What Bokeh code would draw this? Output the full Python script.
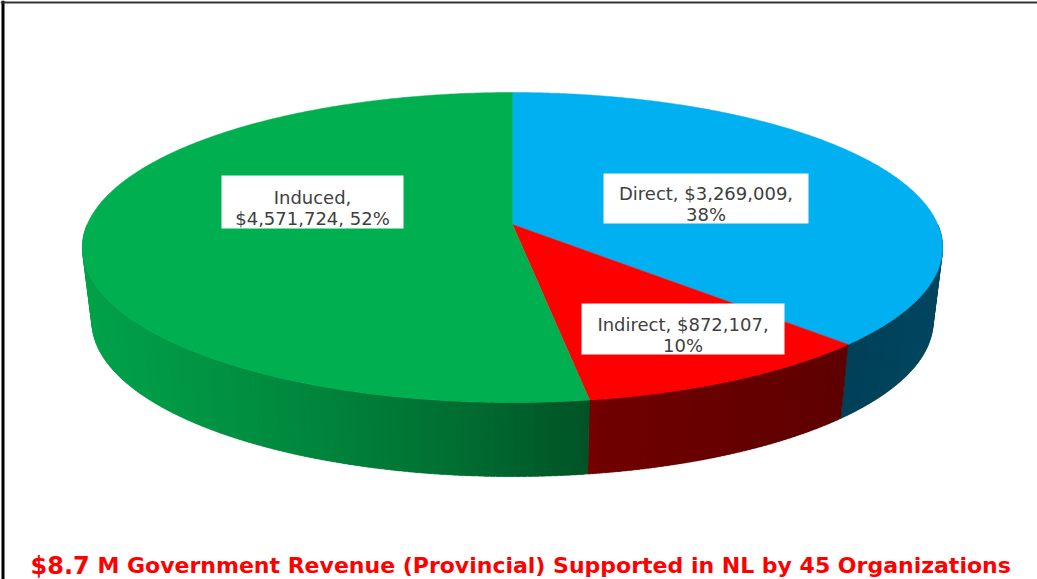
import numpy as np
from bokeh.plotting import figure
from bokeh.models import Range1d, Span
from bokeh.embed import file_html
from bokeh.resources import INLINE
from bokeh.core.properties import value

# ---------------- data ----------------
categories = ["Direct", "Indirect", "Induced"]
values = [3269009, 872107, 4571724]
top_colors = ["#00B0F0", "#FF0000", "#00B050"]
label_break = ["pct", "pct", "name"]
title_big = "$8.7"
title_rest = "M Government Revenue (Provincial) Supported in NL by 45 Organizations"

# ---------------- layout / geometry (pixel space of the picture) ----------------
W, H = 1037, 579
CX, CY = 512.0, 224.0          # projected centre of the pie
A, B, K = 425.3, 151.6, 0.1484  # perspective ellipse parameters
DEPTH = 74.0
SHRINK = 0.978


def proj(theta_deg, rho=1.0):
    t = np.radians(theta_deg)
    a = rho * np.sin(t)
    b = rho * np.cos(t)
    w = 1.0 + K * b
    return CX + A * a / w, CY - B * b / w


def proj_bottom(theta_deg):
    u, v = proj(theta_deg)
    return CX + SHRINK * (u - CX), v + DEPTH


def hex_scale(hx, f):
    r, g, b = int(hx[1:3], 16), int(hx[3:5], 16), int(hx[5:7], 16)
    return "#%02x%02x%02x" % (int(r * f), int(g * f), int(b * f))


def shade(u):
    return float(np.interp(u, [83, 150, 300, 450, 590, 600, 850, 945],
                           [0.92, 0.88, 0.77, 0.63, 0.47, 0.44, 0.37, 0.40]))


total = float(sum(values))
fracs = [v / total for v in values]
starts = np.concatenate([[0.0], np.cumsum(fracs)[:-1]]) * 360.0
ends = np.cumsum(fracs) * 360.0

p = figure(width=W, height=H, x_range=Range1d(0, W), y_range=Range1d(H, 0),
           output_backend="svg", toolbar_location=None, min_border=0)
p.axis.visible = False
p.grid.visible = False
p.outline_line_color = None
p.background_fill_color = "white"
p.border_fill_color = "white"

# ---- side walls (front half only), thin strips shaded left-to-right ----
strips = []
for col, s, e in zip(top_colors, starts, ends):
    lo, hi = max(s, 90.0), min(e, 270.0)
    if lo >= hi:
        continue
    edges = list(np.arange(lo, hi, 0.75)) + [hi]
    for t0, t1 in zip(edges[:-1], edges[1:]):
        a0, a1 = max(t0 - 0.3, lo), min(t1 + 0.3, hi)
        u0, v0 = proj(a0)
        u1, v1 = proj(a1)
        bu0, bv0 = proj_bottom(a0)
        bu1, bv1 = proj_bottom(a1)
        um, _ = proj((t0 + t1) / 2)
        strips.append((um, [u0, u1, bu1, bu0], [v0, v1, bv1, bv0],
                       hex_scale(col, shade(um))))
p.patches(xs=[s[1] for s in strips], ys=[s[2] for s in strips],
          fill_color=[s[3] for s in strips], line_color=[s[3] for s in strips],
          line_width=0.4)

# ---- top faces ----
txs, tys = [], []
for s, e in zip(starts, ends):
    th = np.linspace(s, e, max(int((e - s) * 2), 4))
    u, v = proj(th)
    txs.append([CX] + list(u))
    tys.append([CY] + list(v))
p.patches(xs=txs, ys=tys, fill_color=top_colors, line_color=top_colors, line_width=0.5)

# ---- data labels ----
label_boxes = [(705.5, 198.0, 205, 50), (682.5, 328.5, 203, 51), (312.0, 201.5, 182, 53)]
bx, by, bw, bh, l1x, l1y, l1t, l2y, l2t = [], [], [], [], [], [], [], [], []
for cat, val, fr, brk, (cx, cy, w, h) in zip(categories, values, fracs, label_break, label_boxes):
    pct = "%d%%" % round(fr * 100)
    money = "${:,}".format(val)
    if brk == "pct":
        a_txt, b_txt = f"{cat}, {money},", pct
    else:
        a_txt, b_txt = f"{cat},", f"{money}, {pct}"
    bx.append(cx); by.append(cy); bw.append(w); bh.append(h)
    l1x.append(cx); l1y.append(cy - 5); l1t.append(a_txt)
    l2y.append(cy + 16); l2t.append(b_txt)
p.rect(x=bx, y=by, width=bw, height=bh, fill_color="white", line_color=None)
for ys_, ts_ in ((l1y, l1t), (l2y, l2t)):
    p.text(x=l1x, y=ys_, text=ts_, text_font=value("DejaVu Sans"), text_font_size="18px",
           text_color="#404040", text_align="center", text_baseline="alphabetic")

# ---- title ----
p.text(x=[30], y=[565], text=[title_big], text_font=value("DejaVu Sans"),
       text_font_style="bold", text_font_size="24px", text_color="#FF0000",
       text_align="left", text_baseline="alphabetic")
p.text(x=[97], y=[565], text=[title_rest], text_font=value("DejaVu Sans"),
       text_font_style="bold", text_font_size="22px", text_color="#FF0000",
       text_align="left", text_baseline="alphabetic")

# ---- frame lines (left and top) ----
p.add_layout(Span(location=2.5, dimension="height", line_color="black", line_width=3))
p.add_layout(Span(location=2, dimension="width", line_color="#333333", line_width=2))

open("out.html", "w").write(file_html(p, INLINE))
